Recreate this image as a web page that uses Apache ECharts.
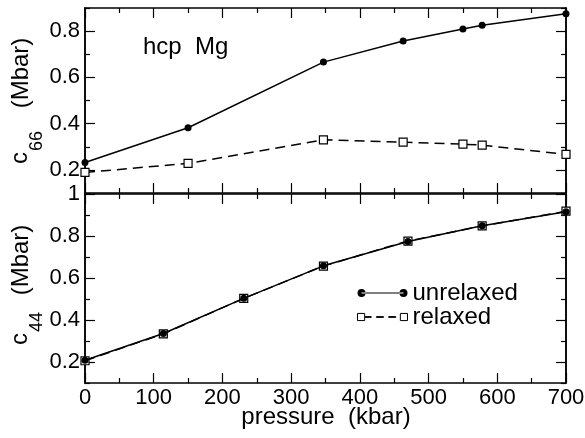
<!DOCTYPE html>
<html>
<head>
<meta charset="utf-8">
<script src="https://cdn.jsdelivr.net/npm/echarts@6/dist/echarts.min.js"></script>
<style>
  html, body { margin: 0; padding: 0; background: #fff; }
  #chart { width: 585px; height: 438px; }
</style>
</head>
<body>
<div id="chart"></div>
<script>
// Shear moduli of hcp Mg versus pressure
const pressureC66 = [0, 150, 347, 463, 550, 578, 700];
const c66Unrelaxed = [0.232, 0.382, 0.666, 0.757, 0.809, 0.825, 0.875];
const c66Relaxed = [0.189, 0.228, 0.330, 0.320, 0.311, 0.307, 0.267];

const pressureC44 = [0, 114, 231, 347, 470, 578, 700];
const c44Unrelaxed = [0.208, 0.336, 0.503, 0.658, 0.774, 0.849, 0.916];
const c44Relaxed = [0.206, 0.334, 0.503, 0.657, 0.776, 0.848, 0.918];

const yMajorTop = [0.2, 0.4, 0.6, 0.8];
const yMinorTop = [0.1, 0.3, 0.5, 0.7, 0.9];
const yMajorBottom = [0.2, 0.4, 0.6, 0.8, 1.0];
const yMinorBottom = [0.1, 0.3, 0.5, 0.7, 0.9];

const FONT = 'Liberation Sans, Arial, Helvetica, sans-serif';
const pairs = (xs, ys) => xs.map((x, i) => [x, ys[i]]);

const chart = echarts.init(document.getElementById('chart'), null, { renderer: 'canvas' });

const frameLine = () => ({ show: true, onZero: false, lineStyle: { color: '#000', width: 1.5 } });

function xAxisDef(grid, position, labels) {
  return {
    type: 'value', gridIndex: grid, position: position,
    min: 0, max: 700, interval: 100,
    axisLine: frameLine(),
    axisTick: { show: true, inside: true, length: 10, lineStyle: { color: '#000', width: 1.2 } },
    minorTick: { show: true, splitNumber: 2, length: 5, lineStyle: { color: '#000', width: 1.2 } },
    splitLine: { show: false },
    axisLabel: { show: labels, color: '#000', fontSize: 22, fontFamily: FONT, margin: 4 }
  };
}

function yAxisDef(grid, position, min, max, ticks, len, labels) {
  return {
    type: 'value', gridIndex: grid, position: position,
    min: min, max: max,
    axisLine: frameLine(),
    axisTick: { show: true, inside: true, length: len, customValues: ticks,
                lineStyle: { color: '#000', width: 1.2 } },
    splitLine: { show: false },
    axisLabel: labels ? {
      show: true, customValues: ticks, color: '#000', fontSize: 22, fontFamily: FONT, margin: 5,
      formatter: v => (Math.abs(v - 1) < 1e-9 ? '1' : v.toFixed(1))
    } : { show: false }
  };
}

// rotated axis title pieces: symbol, subscript index, unit
const vText = (text, x, y, size) => ({
  type: 'text', x: x, y: y, rotation: Math.PI / 2, silent: true,
  style: { text: text, fontSize: size, fontFamily: FONT, fill: '#000',
           align: 'center', verticalAlign: 'middle' }
});
const yTitle = (index, cSym, cSub, cUnit) => [
  vText('c', 20.5, cSym, 24),
  vText(index, 37, cSub, 18),
  vText('(Mbar)', 21, cUnit, 24)
];

// legend glyphs: marker at each end of a short line
const iconUnrelaxed = 'path://M0,4 A4,4 0 1,0 8,4 A4,4 0 1,0 0,4 Z ' +
  'M42,4 A4,4 0 1,0 50,4 A4,4 0 1,0 42,4 Z M4,3.4 L46,3.4 L46,4.6 L4,4.6 Z';
const iconRelaxed = 'path://M0.5,0.5 L7.5,0.5 L7.5,7.5 L0.5,7.5 Z M42.5,0.5 L49.5,0.5 L49.5,7.5 L42.5,7.5 Z ' +
  'M8,3.6 L14,3.6 L14,4.4 L8,4.4 Z M19,3.6 L26,3.6 L26,4.4 L19,4.4 Z M31,3.6 L38,3.6 L38,4.4 L31,4.4 Z';

const solidSeries = (name, xi, yi, data) => ({
  name: name, type: 'line', xAxisIndex: xi, yAxisIndex: yi, data: data,
  symbol: 'circle', symbolSize: 7, z: 3,
  itemStyle: { color: '#000' },
  lineStyle: { color: '#000', width: 1.5, type: 'solid' }
});
const dashedSeries = (name, xi, yi, data) => ({
  name: name, type: 'line', xAxisIndex: xi, yAxisIndex: yi, data: data,
  symbol: 'rect', symbolSize: 8, z: 2,
  itemStyle: { color: '#fff', borderColor: '#000', borderWidth: 1.2 },
  lineStyle: { color: '#000', width: 1.5, type: [10, 6] }
});

chart.setOption({
  animation: false,
  backgroundColor: '#fff',
  textStyle: { fontFamily: FONT },
  title: {
    text: 'hcp  Mg', left: 143, top: 35, padding: 0,
    textStyle: { color: '#000', fontSize: 24, fontWeight: 'normal', fontFamily: FONT }
  },
  legend: {
    orient: 'vertical', left: 357, top: 281, padding: 0, itemGap: 0,
    itemWidth: 50, itemHeight: 8,
    textStyle: { color: '#000', fontSize: 24, lineHeight: 21, fontFamily: FONT },
    data: [
      { name: 'unrelaxed', icon: iconUnrelaxed, itemStyle: { color: '#000', borderWidth: 0 } },
      { name: 'relaxed', icon: iconRelaxed, itemStyle: { color: '#fff', borderColor: '#000', borderWidth: 1 } }
    ]
  },
  graphic: [
    ...yTitle('66', 158, 141, 73),
    ...yTitle('44', 339, 322, 260),
    {
      type: 'text', x: 326, y: 417, silent: true,
      style: { text: 'pressure  (kbar)', fontSize: 24, fontFamily: FONT, fill: '#000',
               align: 'center', verticalAlign: 'middle' }
    }
  ],
  grid: [
    { left: 85, right: 19, top: 8, height: 185, outerBoundsMode: 'none', containLabel: false },
    { left: 85, right: 19, top: 194, height: 189, outerBoundsMode: 'none', containLabel: false }
  ],
  xAxis: [
    xAxisDef(0, 'bottom', false),
    xAxisDef(0, 'top', false),
    xAxisDef(1, 'bottom', true),
    xAxisDef(1, 'top', false)
  ],
  yAxis: [
    yAxisDef(0, 'left', 0.1, 0.9, yMajorTop, 10, true),
    yAxisDef(0, 'left', 0.1, 0.9, yMinorTop, 5, false),
    yAxisDef(0, 'right', 0.1, 0.9, yMajorTop, 10, false),
    yAxisDef(0, 'right', 0.1, 0.9, yMinorTop, 5, false),
    yAxisDef(1, 'left', 0.1, 1.0, yMajorBottom, 10, true),
    yAxisDef(1, 'left', 0.1, 1.0, yMinorBottom, 5, false),
    yAxisDef(1, 'right', 0.1, 1.0, yMajorBottom, 10, false),
    yAxisDef(1, 'right', 0.1, 1.0, yMinorBottom, 5, false)
  ],
  series: [
    dashedSeries('relaxed', 0, 0, pairs(pressureC66, c66Relaxed)),
    solidSeries('unrelaxed', 0, 0, pairs(pressureC66, c66Unrelaxed)),
    dashedSeries('relaxed', 2, 4, pairs(pressureC44, c44Relaxed)),
    solidSeries('unrelaxed', 2, 4, pairs(pressureC44, c44Unrelaxed))
  ]
});
</script>
</body>
</html>
